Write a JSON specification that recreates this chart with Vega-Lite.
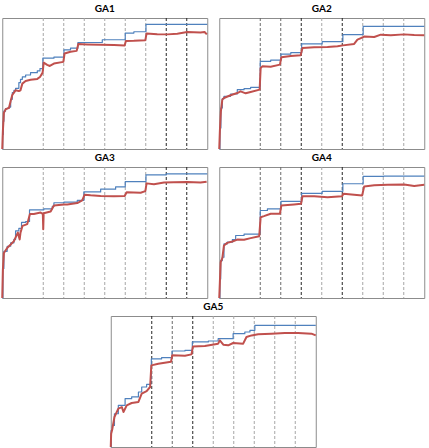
{
  "$schema": "https://vega.github.io/schema/vega-lite/v6.json",
  "padding": {"left": 0, "top": 3, "right": 0, "bottom": 0},
  "background": "white",
  "config": {
    "view": {"stroke": "#8c8c8c", "strokeWidth": 1},
    "title": {"font": "Lato", "fontSize": 10, "fontWeight": "bold", "color": "#000000", "offset": 4, "anchor": "middle", "baseline": "alphabetic"},
    "line": {"strokeJoin": "round", "clip": true}
  },
  "datasets": {
    "best": [
      {"ga": "GA1", "gen": 0, "fit": 0}, {"ga": "GA1", "gen": 0.16, "fit": 11}, {"ga": "GA1", "gen": 0.5, "fit": 21.2}, {"ga": "GA1", "gen": 0.8, "fit": 28.9},
      {"ga": "GA1", "gen": 1.6, "fit": 30.9}, {"ga": "GA1", "gen": 3.3, "fit": 32}, {"ga": "GA1", "gen": 4.1, "fit": 37.9}, {"ga": "GA1", "gen": 4.9, "fit": 43},
      {"ga": "GA1", "gen": 5.7, "fit": 44.8}, {"ga": "GA1", "gen": 6.5, "fit": 46.3}, {"ga": "GA1", "gen": 8.1, "fit": 50.6}, {"ga": "GA1", "gen": 8.9, "fit": 53.2},
      {"ga": "GA1", "gen": 9.8, "fit": 55}, {"ga": "GA1", "gen": 11.4, "fit": 56.5}, {"ga": "GA1", "gen": 13.8, "fit": 58.3}, {"ga": "GA1", "gen": 17.1, "fit": 59.6},
      {"ga": "GA1", "gen": 18.4, "fit": 61.4}, {"ga": "GA1", "gen": 19.8, "fit": 69.3}, {"ga": "GA1", "gen": 25.2, "fit": 70.1}, {"ga": "GA1", "gen": 30.1, "fit": 75.7},
      {"ga": "GA1", "gen": 33.3, "fit": 77}, {"ga": "GA1", "gen": 36.9, "fit": 81.3}, {"ga": "GA1", "gen": 48.8, "fit": 83.4}, {"ga": "GA1", "gen": 60, "fit": 88.5},
      {"ga": "GA1", "gen": 64.2, "fit": 89.5}, {"ga": "GA1", "gen": 70.1, "fit": 95.1}, {"ga": "GA1", "gen": 100, "fit": 95.1},

      {"ga": "GA2", "gen": 0, "fit": 0}, {"ga": "GA2", "gen": 0.3, "fit": 16}, {"ga": "GA2", "gen": 0.8, "fit": 31.3}, {"ga": "GA2", "gen": 1.5, "fit": 38.4},
      {"ga": "GA2", "gen": 2.3, "fit": 40.2}, {"ga": "GA2", "gen": 5.5, "fit": 42}, {"ga": "GA2", "gen": 8.8, "fit": 45.3}, {"ga": "GA2", "gen": 12.1, "fit": 46.1},
      {"ga": "GA2", "gen": 15.3, "fit": 47.1}, {"ga": "GA2", "gen": 20, "fit": 66.9}, {"ga": "GA2", "gen": 25.1, "fit": 67.9}, {"ga": "GA2", "gen": 30.1, "fit": 72.5},
      {"ga": "GA2", "gen": 34.9, "fit": 73.5}, {"ga": "GA2", "gen": 40.2, "fit": 80.2}, {"ga": "GA2", "gen": 50.2, "fit": 81.9}, {"ga": "GA2", "gen": 60.3, "fit": 87.3},
      {"ga": "GA2", "gen": 70.2, "fit": 93.6}, {"ga": "GA2", "gen": 100, "fit": 93.6},

      {"ga": "GA3", "gen": 0, "fit": 0}, {"ga": "GA3", "gen": 0.3, "fit": 22.6}, {"ga": "GA3", "gen": 0.8, "fit": 35.6}, {"ga": "GA3", "gen": 2.4, "fit": 39.5},
      {"ga": "GA3", "gen": 4.1, "fit": 42.1}, {"ga": "GA3", "gen": 5.7, "fit": 44.7}, {"ga": "GA3", "gen": 6.5, "fit": 51.2}, {"ga": "GA3", "gen": 8.1, "fit": 53.2},
      {"ga": "GA3", "gen": 9.4, "fit": 57.7}, {"ga": "GA3", "gen": 11.4, "fit": 58.4}, {"ga": "GA3", "gen": 13.3, "fit": 67.3}, {"ga": "GA3", "gen": 20.3, "fit": 68.1},
      {"ga": "GA3", "gen": 24.4, "fit": 69.9}, {"ga": "GA3", "gen": 25.2, "fit": 72.7}, {"ga": "GA3", "gen": 30.1, "fit": 73.2}, {"ga": "GA3", "gen": 36.6, "fit": 74.5},
      {"ga": "GA3", "gen": 39.8, "fit": 81}, {"ga": "GA3", "gen": 48, "fit": 83.1}, {"ga": "GA3", "gen": 55.3, "fit": 84.9}, {"ga": "GA3", "gen": 60, "fit": 88.8},
      {"ga": "GA3", "gen": 70.1, "fit": 94}, {"ga": "GA3", "gen": 80, "fit": 94.8}, {"ga": "GA3", "gen": 100, "fit": 94.8},

      {"ga": "GA4", "gen": 0, "fit": 0}, {"ga": "GA4", "gen": 0.3, "fit": 14.5}, {"ga": "GA4", "gen": 0.7, "fit": 28.6}, {"ga": "GA4", "gen": 1.5, "fit": 31.1},
      {"ga": "GA4", "gen": 2.3, "fit": 41.3}, {"ga": "GA4", "gen": 3.9, "fit": 42.6}, {"ga": "GA4", "gen": 6.4, "fit": 44.6}, {"ga": "GA4", "gen": 8, "fit": 47.7},
      {"ga": "GA4", "gen": 12.1, "fit": 48.7}, {"ga": "GA4", "gen": 19.7, "fit": 50.3}, {"ga": "GA4", "gen": 20, "fit": 66.8}, {"ga": "GA4", "gen": 23.5, "fit": 68.1},
      {"ga": "GA4", "gen": 30.1, "fit": 73.7}, {"ga": "GA4", "gen": 40.2, "fit": 79.8}, {"ga": "GA4", "gen": 50.2, "fit": 81.4}, {"ga": "GA4", "gen": 60.3, "fit": 87.2},
      {"ga": "GA4", "gen": 70.2, "fit": 92.9}, {"ga": "GA4", "gen": 80.3, "fit": 93.1}, {"ga": "GA4", "gen": 100, "fit": 93.1},

      {"ga": "GA5", "gen": 0, "fit": 0}, {"ga": "GA5", "gen": 0.2, "fit": 12.7}, {"ga": "GA5", "gen": 0.8, "fit": 16.5}, {"ga": "GA5", "gen": 1.8, "fit": 25.4},
      {"ga": "GA5", "gen": 3.7, "fit": 31.8}, {"ga": "GA5", "gen": 7, "fit": 36.9}, {"ga": "GA5", "gen": 10.2, "fit": 38.2}, {"ga": "GA5", "gen": 13.5, "fit": 42},
      {"ga": "GA5", "gen": 15.1, "fit": 45.8}, {"ga": "GA5", "gen": 17.5, "fit": 47.8}, {"ga": "GA5", "gen": 19.5, "fit": 52.2}, {"ga": "GA5", "gen": 19.8, "fit": 67.2},
      {"ga": "GA5", "gen": 24.8, "fit": 68.2}, {"ga": "GA5", "gen": 29.9, "fit": 73.3}, {"ga": "GA5", "gen": 36.2, "fit": 73.8}, {"ga": "GA5", "gen": 39.8, "fit": 80.2},
      {"ga": "GA5", "gen": 47.6, "fit": 80.9}, {"ga": "GA5", "gen": 52.4, "fit": 82.7}, {"ga": "GA5", "gen": 59.7, "fit": 86.5}, {"ga": "GA5", "gen": 65.4, "fit": 87.8},
      {"ga": "GA5", "gen": 67.9, "fit": 89.1}, {"ga": "GA5", "gen": 70.3, "fit": 92.9}, {"ga": "GA5", "gen": 100, "fit": 92.9}
    ],
    "mean": [
      {"ga": "GA1", "gen": 0, "fit": 0}, {"ga": "GA1", "gen": 0.3, "fit": 13.6}, {"ga": "GA1", "gen": 0.8, "fit": 27.6}, {"ga": "GA1", "gen": 1.6, "fit": 30.2},
      {"ga": "GA1", "gen": 3.3, "fit": 31.5}, {"ga": "GA1", "gen": 4.1, "fit": 36.6}, {"ga": "GA1", "gen": 4.9, "fit": 41.2}, {"ga": "GA1", "gen": 5.7, "fit": 43},
      {"ga": "GA1", "gen": 6.5, "fit": 44.8}, {"ga": "GA1", "gen": 8.1, "fit": 44.2}, {"ga": "GA1", "gen": 8.9, "fit": 44.8}, {"ga": "GA1", "gen": 9.8, "fit": 49.9},
      {"ga": "GA1", "gen": 11.4, "fit": 51.9}, {"ga": "GA1", "gen": 13.8, "fit": 52.9}, {"ga": "GA1", "gen": 17.1, "fit": 53.5}, {"ga": "GA1", "gen": 18.4, "fit": 55},
      {"ga": "GA1", "gen": 19.7, "fit": 58.3}, {"ga": "GA1", "gen": 20.2, "fit": 66}, {"ga": "GA1", "gen": 21.9, "fit": 64.2}, {"ga": "GA1", "gen": 23.2, "fit": 63.4},
      {"ga": "GA1", "gen": 25.2, "fit": 65.2}, {"ga": "GA1", "gen": 29.8, "fit": 66.5}, {"ga": "GA1", "gen": 30.4, "fit": 72.9}, {"ga": "GA1", "gen": 33.3, "fit": 74.2},
      {"ga": "GA1", "gen": 36.3, "fit": 74.9}, {"ga": "GA1", "gen": 37.1, "fit": 80.1}, {"ga": "GA1", "gen": 41.5, "fit": 79.8}, {"ga": "GA1", "gen": 48, "fit": 79.5},
      {"ga": "GA1", "gen": 54.5, "fit": 79.3}, {"ga": "GA1", "gen": 59.7, "fit": 79}, {"ga": "GA1", "gen": 60.3, "fit": 82.4}, {"ga": "GA1", "gen": 64.2, "fit": 82.6},
      {"ga": "GA1", "gen": 69.8, "fit": 83.1}, {"ga": "GA1", "gen": 70.4, "fit": 88.2}, {"ga": "GA1", "gen": 75.6, "fit": 87.6}, {"ga": "GA1", "gen": 80.5, "fit": 87.5},
      {"ga": "GA1", "gen": 85.4, "fit": 88}, {"ga": "GA1", "gen": 90.2, "fit": 89.3}, {"ga": "GA1", "gen": 96.7, "fit": 89}, {"ga": "GA1", "gen": 98.7, "fit": 89.3},
      {"ga": "GA1", "gen": 99.8, "fit": 87.5},

      {"ga": "GA2", "gen": 0, "fit": 0}, {"ga": "GA2", "gen": 0.3, "fit": 13.5}, {"ga": "GA2", "gen": 0.8, "fit": 28.8}, {"ga": "GA2", "gen": 1.5, "fit": 37.7},
      {"ga": "GA2", "gen": 2.3, "fit": 38.9}, {"ga": "GA2", "gen": 5.5, "fit": 41}, {"ga": "GA2", "gen": 8.8, "fit": 42.7}, {"ga": "GA2", "gen": 10.4, "fit": 44},
      {"ga": "GA2", "gen": 12.9, "fit": 42.5}, {"ga": "GA2", "gen": 15.3, "fit": 43.5}, {"ga": "GA2", "gen": 19.7, "fit": 45.3}, {"ga": "GA2", "gen": 20.2, "fit": 61.8},
      {"ga": "GA2", "gen": 21, "fit": 63.1}, {"ga": "GA2", "gen": 25.1, "fit": 62.8}, {"ga": "GA2", "gen": 29.6, "fit": 64.4}, {"ga": "GA2", "gen": 30.3, "fit": 70},
      {"ga": "GA2", "gen": 34.9, "fit": 71}, {"ga": "GA2", "gen": 39.7, "fit": 71.5}, {"ga": "GA2", "gen": 40.6, "fit": 77.1}, {"ga": "GA2", "gen": 46.3, "fit": 77.6},
      {"ga": "GA2", "gen": 52.8, "fit": 77.9}, {"ga": "GA2", "gen": 57.7, "fit": 78.4}, {"ga": "GA2", "gen": 60.3, "fit": 79.1}, {"ga": "GA2", "gen": 65.8, "fit": 80.2},
      {"ga": "GA2", "gen": 67.4, "fit": 83.5}, {"ga": "GA2", "gen": 69.1, "fit": 84.7}, {"ga": "GA2", "gen": 70.7, "fit": 85.8}, {"ga": "GA2", "gen": 75.6, "fit": 85.5},
      {"ga": "GA2", "gen": 78.8, "fit": 87.3}, {"ga": "GA2", "gen": 83.7, "fit": 86.8}, {"ga": "GA2", "gen": 90.2, "fit": 87.5}, {"ga": "GA2", "gen": 95.1, "fit": 87},
      {"ga": "GA2", "gen": 100, "fit": 86.8},

      {"ga": "GA3", "gen": 0, "fit": 0}, {"ga": "GA3", "gen": 0.3, "fit": 21.3}, {"ga": "GA3", "gen": 0.8, "fit": 34.3}, {"ga": "GA3", "gen": 2.4, "fit": 38.2},
      {"ga": "GA3", "gen": 4.1, "fit": 40.8}, {"ga": "GA3", "gen": 5.7, "fit": 43.4}, {"ga": "GA3", "gen": 6.8, "fit": 47.3}, {"ga": "GA3", "gen": 7.6, "fit": 49.9},
      {"ga": "GA3", "gen": 8.5, "fit": 44.7}, {"ga": "GA3", "gen": 8.9, "fit": 49.9}, {"ga": "GA3", "gen": 9.9, "fit": 55.1}, {"ga": "GA3", "gen": 12.2, "fit": 56.4},
      {"ga": "GA3", "gen": 13.5, "fit": 64.2}, {"ga": "GA3", "gen": 15.4, "fit": 64.2}, {"ga": "GA3", "gen": 18.7, "fit": 65.2}, {"ga": "GA3", "gen": 19.8, "fit": 64.2},
      {"ga": "GA3", "gen": 20, "fit": 52.5}, {"ga": "GA3", "gen": 20.2, "fit": 64.7}, {"ga": "GA3", "gen": 23.6, "fit": 66}, {"ga": "GA3", "gen": 25.2, "fit": 70.6},
      {"ga": "GA3", "gen": 30.1, "fit": 71.4}, {"ga": "GA3", "gen": 31.7, "fit": 71.4}, {"ga": "GA3", "gen": 36.6, "fit": 72.5}, {"ga": "GA3", "gen": 39, "fit": 74.5},
      {"ga": "GA3", "gen": 40.2, "fit": 78.9}, {"ga": "GA3", "gen": 43.1, "fit": 78.4}, {"ga": "GA3", "gen": 48, "fit": 77.9}, {"ga": "GA3", "gen": 54.5, "fit": 77.7},
      {"ga": "GA3", "gen": 59.7, "fit": 77.9}, {"ga": "GA3", "gen": 60.7, "fit": 80.8}, {"ga": "GA3", "gen": 67.5, "fit": 80.3}, {"ga": "GA3", "gen": 69.8, "fit": 81.6},
      {"ga": "GA3", "gen": 70.4, "fit": 87.5}, {"ga": "GA3", "gen": 74, "fit": 86.8}, {"ga": "GA3", "gen": 78.9, "fit": 88.1}, {"ga": "GA3", "gen": 83.7, "fit": 88.3},
      {"ga": "GA3", "gen": 90.2, "fit": 88.6}, {"ga": "GA3", "gen": 96.7, "fit": 88.1}, {"ga": "GA3", "gen": 99.7, "fit": 88.8},

      {"ga": "GA4", "gen": 0, "fit": 0}, {"ga": "GA4", "gen": 0.3, "fit": 12}, {"ga": "GA4", "gen": 0.7, "fit": 27.3}, {"ga": "GA4", "gen": 1.5, "fit": 30.4},
      {"ga": "GA4", "gen": 2.3, "fit": 40.1}, {"ga": "GA4", "gen": 3.9, "fit": 42.1}, {"ga": "GA4", "gen": 6.4, "fit": 43.1}, {"ga": "GA4", "gen": 8.8, "fit": 44.6},
      {"ga": "GA4", "gen": 12.1, "fit": 44.4}, {"ga": "GA4", "gen": 15.3, "fit": 45.7}, {"ga": "GA4", "gen": 19.5, "fit": 47.2}, {"ga": "GA4", "gen": 20.2, "fit": 61.7},
      {"ga": "GA4", "gen": 21.8, "fit": 62.5}, {"ga": "GA4", "gen": 25.1, "fit": 64.3}, {"ga": "GA4", "gen": 29.6, "fit": 64.3}, {"ga": "GA4", "gen": 30.3, "fit": 70.7},
      {"ga": "GA4", "gen": 36.5, "fit": 71.4}, {"ga": "GA4", "gen": 39.9, "fit": 71.9}, {"ga": "GA4", "gen": 40.6, "fit": 77.6}, {"ga": "GA4", "gen": 46.3, "fit": 77.6},
      {"ga": "GA4", "gen": 52.8, "fit": 77}, {"ga": "GA4", "gen": 59.9, "fit": 77.6}, {"ga": "GA4", "gen": 60.6, "fit": 79.6}, {"ga": "GA4", "gen": 65.8, "fit": 78.8},
      {"ga": "GA4", "gen": 69.7, "fit": 78.3}, {"ga": "GA4", "gen": 70.7, "fit": 85.2}, {"ga": "GA4", "gen": 75.6, "fit": 86}, {"ga": "GA4", "gen": 82.1, "fit": 86.5},
      {"ga": "GA4", "gen": 90.2, "fit": 86.7}, {"ga": "GA4", "gen": 95.1, "fit": 85.5}, {"ga": "GA4", "gen": 100, "fit": 86.5},

      {"ga": "GA5", "gen": 0, "fit": 0}, {"ga": "GA5", "gen": 0.2, "fit": 10.2}, {"ga": "GA5", "gen": 0.8, "fit": 14}, {"ga": "GA5", "gen": 1.8, "fit": 22.9},
      {"ga": "GA5", "gen": 3.7, "fit": 29.3}, {"ga": "GA5", "gen": 5.4, "fit": 30.5}, {"ga": "GA5", "gen": 6.2, "fit": 26.7}, {"ga": "GA5", "gen": 7.8, "fit": 31.8},
      {"ga": "GA5", "gen": 10.2, "fit": 33.6}, {"ga": "GA5", "gen": 13.5, "fit": 34.4}, {"ga": "GA5", "gen": 15.1, "fit": 40.7}, {"ga": "GA5", "gen": 17.5, "fit": 42.7},
      {"ga": "GA5", "gen": 19.2, "fit": 45.8}, {"ga": "GA5", "gen": 19.8, "fit": 62.3}, {"ga": "GA5", "gen": 23.2, "fit": 63.6}, {"ga": "GA5", "gen": 29.4, "fit": 65.1},
      {"ga": "GA5", "gen": 30, "fit": 70}, {"ga": "GA5", "gen": 36.2, "fit": 69.7}, {"ga": "GA5", "gen": 39.4, "fit": 70.7}, {"ga": "GA5", "gen": 40.1, "fit": 76.8},
      {"ga": "GA5", "gen": 45.9, "fit": 77.1}, {"ga": "GA5", "gen": 52.4, "fit": 78.9}, {"ga": "GA5", "gen": 53.2, "fit": 81.4}, {"ga": "GA5", "gen": 54.9, "fit": 78.1},
      {"ga": "GA5", "gen": 57.3, "fit": 77.6}, {"ga": "GA5", "gen": 59.7, "fit": 79.4}, {"ga": "GA5", "gen": 64.6, "fit": 78.9}, {"ga": "GA5", "gen": 66.2, "fit": 84},
      {"ga": "GA5", "gen": 68.7, "fit": 85.2}, {"ga": "GA5", "gen": 71.9, "fit": 86}, {"ga": "GA5", "gen": 78.4, "fit": 86.5}, {"ga": "GA5", "gen": 84.9, "fit": 87},
      {"ga": "GA5", "gen": 91.4, "fit": 87}, {"ga": "GA5", "gen": 97.9, "fit": 86.5}, {"ga": "GA5", "gen": 100, "fit": 85.2}
    ],
    "epochs": [
      {"ga": "GA1", "gen": 20, "shade": "light"}, {"ga": "GA1", "gen": 30, "shade": "light"}, {"ga": "GA1", "gen": 40, "shade": "light"}, {"ga": "GA1", "gen": 50, "shade": "light"},
      {"ga": "GA1", "gen": 60, "shade": "light"}, {"ga": "GA1", "gen": 70, "shade": "light"}, {"ga": "GA1", "gen": 80, "shade": "dark"}, {"ga": "GA1", "gen": 90, "shade": "dark"},
      {"ga": "GA2", "gen": 20, "shade": "mid"}, {"ga": "GA2", "gen": 30, "shade": "mid"}, {"ga": "GA2", "gen": 40, "shade": "dark"}, {"ga": "GA2", "gen": 50, "shade": "light"},
      {"ga": "GA2", "gen": 60, "shade": "dark"}, {"ga": "GA2", "gen": 70, "shade": "light"}, {"ga": "GA2", "gen": 80, "shade": "light"}, {"ga": "GA2", "gen": 90, "shade": "light"},
      {"ga": "GA3", "gen": 20, "shade": "light"}, {"ga": "GA3", "gen": 30, "shade": "light"}, {"ga": "GA3", "gen": 40, "shade": "light"}, {"ga": "GA3", "gen": 50, "shade": "light"},
      {"ga": "GA3", "gen": 60, "shade": "light"}, {"ga": "GA3", "gen": 70, "shade": "light"}, {"ga": "GA3", "gen": 80, "shade": "dark"}, {"ga": "GA3", "gen": 90, "shade": "dark"},
      {"ga": "GA4", "gen": 20, "shade": "mid"}, {"ga": "GA4", "gen": 30, "shade": "mid"}, {"ga": "GA4", "gen": 40, "shade": "dark"}, {"ga": "GA4", "gen": 50, "shade": "light"},
      {"ga": "GA4", "gen": 60, "shade": "dark"}, {"ga": "GA4", "gen": 70, "shade": "light"}, {"ga": "GA4", "gen": 80, "shade": "light"}, {"ga": "GA4", "gen": 90, "shade": "light"},
      {"ga": "GA5", "gen": 20, "shade": "dark"}, {"ga": "GA5", "gen": 30, "shade": "mid"}, {"ga": "GA5", "gen": 40, "shade": "dark"}, {"ga": "GA5", "gen": 50, "shade": "light"},
      {"ga": "GA5", "gen": 60, "shade": "light"}, {"ga": "GA5", "gen": 70, "shade": "light"}, {"ga": "GA5", "gen": 80, "shade": "light"}, {"ga": "GA5", "gen": 90, "shade": "light"}
    ]
  },
  "vconcat": [
    {
      "bounds": "flush",
      "spacing": 12,
      "hconcat": [
        {
          "title": "GA1", "width": 205, "height": 131,
          "layer": [
            {"data": {"name": "epochs"}, "transform": [{"filter": "datum.ga === 'GA1'"}], "mark": {"type": "rule", "strokeDash": [3, 2], "strokeWidth": 1},
             "encoding": {"x": {"field": "gen", "type": "quantitative", "scale": {"domain": [0, 100], "nice": false}, "axis": null},
                          "color": {"field": "shade", "type": "nominal", "scale": {"domain": ["dark", "mid", "light"], "range": ["#262626", "#6a6a6a", "#a6a6a6"]}, "legend": null}}},
            {"data": {"name": "best"}, "transform": [{"filter": "datum.ga === 'GA1'"}], "mark": {"type": "line", "color": "#4f81bd", "strokeWidth": 1.2, "interpolate": "step-after"},
             "encoding": {"x": {"field": "gen", "type": "quantitative", "scale": {"domain": [0, 100], "nice": false}, "axis": null},
                          "y": {"field": "fit", "type": "quantitative", "scale": {"domain": [0, 100], "nice": false}, "axis": null}}},
            {"data": {"name": "mean"}, "transform": [{"filter": "datum.ga === 'GA1'"}], "mark": {"type": "line", "color": "#c0504d", "strokeWidth": 2},
             "encoding": {"x": {"field": "gen", "type": "quantitative", "scale": {"domain": [0, 100], "nice": false}, "axis": null},
                          "y": {"field": "fit", "type": "quantitative", "scale": {"domain": [0, 100], "nice": false}, "axis": null}}}
          ]
        },
        {
          "title": "GA2", "width": 205, "height": 131,
          "layer": [
            {"data": {"name": "epochs"}, "transform": [{"filter": "datum.ga === 'GA2'"}], "mark": {"type": "rule", "strokeDash": [3, 2], "strokeWidth": 1},
             "encoding": {"x": {"field": "gen", "type": "quantitative", "scale": {"domain": [0, 100], "nice": false}, "axis": null},
                          "color": {"field": "shade", "type": "nominal", "scale": {"domain": ["dark", "mid", "light"], "range": ["#262626", "#6a6a6a", "#a6a6a6"]}, "legend": null}}},
            {"data": {"name": "best"}, "transform": [{"filter": "datum.ga === 'GA2'"}], "mark": {"type": "line", "color": "#4f81bd", "strokeWidth": 1.2, "interpolate": "step-after"},
             "encoding": {"x": {"field": "gen", "type": "quantitative", "scale": {"domain": [0, 100], "nice": false}, "axis": null},
                          "y": {"field": "fit", "type": "quantitative", "scale": {"domain": [0, 100], "nice": false}, "axis": null}}},
            {"data": {"name": "mean"}, "transform": [{"filter": "datum.ga === 'GA2'"}], "mark": {"type": "line", "color": "#c0504d", "strokeWidth": 2},
             "encoding": {"x": {"field": "gen", "type": "quantitative", "scale": {"domain": [0, 100], "nice": false}, "axis": null},
                          "y": {"field": "fit", "type": "quantitative", "scale": {"domain": [0, 100], "nice": false}, "axis": null}}}
          ]
        }
      ]
    },
    {
      "bounds": "flush",
      "spacing": 12,
      "hconcat": [
        {
          "title": "GA3", "width": 205, "height": 131,
          "layer": [
            {"data": {"name": "epochs"}, "transform": [{"filter": "datum.ga === 'GA3'"}], "mark": {"type": "rule", "strokeDash": [3, 2], "strokeWidth": 1},
             "encoding": {"x": {"field": "gen", "type": "quantitative", "scale": {"domain": [0, 100], "nice": false}, "axis": null},
                          "color": {"field": "shade", "type": "nominal", "scale": {"domain": ["dark", "mid", "light"], "range": ["#262626", "#6a6a6a", "#a6a6a6"]}, "legend": null}}},
            {"data": {"name": "best"}, "transform": [{"filter": "datum.ga === 'GA3'"}], "mark": {"type": "line", "color": "#4f81bd", "strokeWidth": 1.2, "interpolate": "step-after"},
             "encoding": {"x": {"field": "gen", "type": "quantitative", "scale": {"domain": [0, 100], "nice": false}, "axis": null},
                          "y": {"field": "fit", "type": "quantitative", "scale": {"domain": [0, 100], "nice": false}, "axis": null}}},
            {"data": {"name": "mean"}, "transform": [{"filter": "datum.ga === 'GA3'"}], "mark": {"type": "line", "color": "#c0504d", "strokeWidth": 2},
             "encoding": {"x": {"field": "gen", "type": "quantitative", "scale": {"domain": [0, 100], "nice": false}, "axis": null},
                          "y": {"field": "fit", "type": "quantitative", "scale": {"domain": [0, 100], "nice": false}, "axis": null}}}
          ]
        },
        {
          "title": "GA4", "width": 205, "height": 131,
          "layer": [
            {"data": {"name": "epochs"}, "transform": [{"filter": "datum.ga === 'GA4'"}], "mark": {"type": "rule", "strokeDash": [3, 2], "strokeWidth": 1},
             "encoding": {"x": {"field": "gen", "type": "quantitative", "scale": {"domain": [0, 100], "nice": false}, "axis": null},
                          "color": {"field": "shade", "type": "nominal", "scale": {"domain": ["dark", "mid", "light"], "range": ["#262626", "#6a6a6a", "#a6a6a6"]}, "legend": null}}},
            {"data": {"name": "best"}, "transform": [{"filter": "datum.ga === 'GA4'"}], "mark": {"type": "line", "color": "#4f81bd", "strokeWidth": 1.2, "interpolate": "step-after"},
             "encoding": {"x": {"field": "gen", "type": "quantitative", "scale": {"domain": [0, 100], "nice": false}, "axis": null},
                          "y": {"field": "fit", "type": "quantitative", "scale": {"domain": [0, 100], "nice": false}, "axis": null}}},
            {"data": {"name": "mean"}, "transform": [{"filter": "datum.ga === 'GA4'"}], "mark": {"type": "line", "color": "#c0504d", "strokeWidth": 2},
             "encoding": {"x": {"field": "gen", "type": "quantitative", "scale": {"domain": [0, 100], "nice": false}, "axis": null},
                          "y": {"field": "fit", "type": "quantitative", "scale": {"domain": [0, 100], "nice": false}, "axis": null}}}
          ]
        }
      ]
    },
    {
      "title": "GA5", "width": 205, "height": 131,
      "layer": [
        {"data": {"name": "epochs"}, "transform": [{"filter": "datum.ga === 'GA5'"}], "mark": {"type": "rule", "strokeDash": [3, 2], "strokeWidth": 1},
         "encoding": {"x": {"field": "gen", "type": "quantitative", "scale": {"domain": [0, 100], "nice": false}, "axis": null},
                      "color": {"field": "shade", "type": "nominal", "scale": {"domain": ["dark", "mid", "light"], "range": ["#262626", "#6a6a6a", "#a6a6a6"]}, "legend": null}}},
        {"data": {"name": "best"}, "transform": [{"filter": "datum.ga === 'GA5'"}], "mark": {"type": "line", "color": "#4f81bd", "strokeWidth": 1.2, "interpolate": "step-after"},
         "encoding": {"x": {"field": "gen", "type": "quantitative", "scale": {"domain": [0, 100], "nice": false}, "axis": null},
                      "y": {"field": "fit", "type": "quantitative", "scale": {"domain": [0, 100], "nice": false}, "axis": null}}},
        {"data": {"name": "mean"}, "transform": [{"filter": "datum.ga === 'GA5'"}], "mark": {"type": "line", "color": "#c0504d", "strokeWidth": 2},
         "encoding": {"x": {"field": "gen", "type": "quantitative", "scale": {"domain": [0, 100], "nice": false}, "axis": null},
                      "y": {"field": "fit", "type": "quantitative", "scale": {"domain": [0, 100], "nice": false}, "axis": null}}}
      ]
    }
  ],
  "spacing": 1,
  "center": true
}
